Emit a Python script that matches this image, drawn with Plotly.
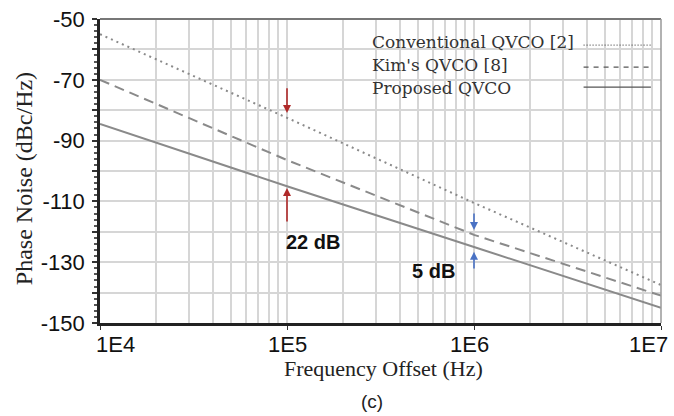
import math
import plotly.graph_objects as go

# ---- data ----
freq = [1e4, 1e5, 1e6, 1e7]
conv = [-55, -82.5, -110.5, -137.5]
kim = [-70, -96.4, -121, -141]
prop = [-84.5, -105, -125, -145]

names = ["Conventional QVCO [2]", "Kim's QVCO [8]", "Proposed QVCO"]
x_ticks = [1e4, 1e5, 1e6, 1e7]
x_labels = ["1E4", "1E5", "1E6", "1E7"]
y_ticks = [-150, -140, -130, -120, -110, -100, -90, -80, -70, -60, -50]
y_labels = ["-150", "", "-130", "", "-110", "", "-90", "", "-70", "", "-50"]
notes = ["22 dB", "5 dB"]

LINE = "#8a8a8a"
GRID = "#d6d6d6"
SERIF = "Liberation Serif"
SANS = "Liberation Sans"

fig = go.Figure()
styles = [("2px,4px", 2), ("10px,6px", 2), ("solid", 2)]
for ys, (dash, w) in zip([conv, kim, prop], styles):
    fig.add_trace(go.Scatter(x=freq, y=ys, mode="lines",
                             line=dict(color=LINE, width=w, dash=dash),
                             showlegend=False, hoverinfo="skip"))

minor_x = [k * 10 ** e for e in range(4, 7) for k in range(2, 10)]

fig.update_layout(
    width=674, height=416,
    margin=dict(l=100, r=13, t=19, b=93),
    paper_bgcolor="white", plot_bgcolor="white",
    xaxis=dict(type="log", range=[4, 7], tickmode="array", tickvals=x_ticks,
               ticktext=["", "", "", ""], showgrid=True, gridcolor=GRID, gridwidth=1.5,
               ticks="outside", ticklen=4, tickcolor="#333", automargin=False,
               showline=True, linecolor="#222", linewidth=2.5, zeroline=False,
               minor=dict(tickmode="array", tickvals=minor_x, showgrid=True,
                          gridcolor=GRID, gridwidth=1.5, ticks="")),
    yaxis=dict(range=[-150, -50], tickmode="array", tickvals=y_ticks, ticktext=y_labels,
               showgrid=True, gridcolor=GRID, gridwidth=1.5,
               ticks="outside", ticklen=5, tickcolor="#333", tickwidth=1.5,
               ticklabelstandoff=3, automargin=False,
               showline=True, linecolor="#222", linewidth=2.5, zeroline=False,
               tickfont=dict(family=SANS, size=22, color="#111"),
               minor=dict(dtick=2, tick0=-150, ticks="outside", ticklen=3,
                          tickcolor="#555", showgrid=False)),
)

# top / right frame
fig.add_shape(type="line", xref="paper", yref="paper", x0=0, x1=1, y0=1, y1=1,
              line=dict(color="#777", width=2))
fig.add_shape(type="line", xref="paper", yref="paper", x0=1, x1=1, y0=0, y1=1,
              line=dict(color="#999", width=1.5))

# x tick labels as annotations (edge labels are pulled inward in the original)
shifts = [(-6, "left"), (0, "center"), (-5, "center"), (9, "right")]
for xv, lab, (sh, anc) in zip(x_ticks, x_labels, shifts):
    fig.add_annotation(x=math.log10(xv), xref="x", y=-0.07, yref="paper", text=lab,
                       showarrow=False, xanchor=anc, yanchor="middle", xshift=sh,
                       font=dict(family=SANS, size=22, color="#111"))

# axis titles and caption
fig.add_annotation(x=0.506, y=-0.15, xref="paper", yref="paper",
                   text="Frequency Offset (Hz)", showarrow=False,
                   xanchor="center", yanchor="middle",
                   font=dict(family=SERIF, size=22, color="#222"))
fig.add_annotation(x=-0.135, y=0.474, xref="paper", yref="paper",
                   text="Phase Noise (dBc/Hz)", showarrow=False, textangle=-90,
                   xanchor="center", yanchor="middle",
                   font=dict(family=SERIF, size=24, color="#222"))
fig.add_annotation(x=0.485, y=-0.257, xref="paper", yref="paper",
                   text="(c)", showarrow=False, xanchor="center", yanchor="middle",
                   font=dict(family=SANS, size=19, color="#222"))

# legend box (text left, line sample right)
fig.add_shape(type="rect", xref="paper", yref="paper", x0=0.472, x1=0.997,
              y0=0.743, y1=0.995, fillcolor="white", line=dict(width=0), layer="between")
leg_y_text = [0.924, 0.849, 0.773]
leg_y_line = [0.914, 0.842, 0.776]
leg_dash = ["1px,2px", "5px,5px", "solid"]
for nm, yt, yl, d in zip(names, leg_y_text, leg_y_line, leg_dash):
    fig.add_annotation(x=0.482, y=yt, xref="paper", yref="paper", text=nm,
                       showarrow=False, xanchor="left", yanchor="middle",
                       font=dict(family="DejaVu Serif", size=17, color="#333"))
    fig.add_shape(type="line", xref="paper", yref="paper", x0=0.862, x1=0.982,
                  y0=yl, y1=yl, line=dict(color="#555", width=1.3, dash=d))

# difference arrows
RED = "#b02a2a"
BLUE = "#4a72c4"
f5, f6 = math.log10(freq[1]), math.log10(freq[2])
c5, p5 = conv[1], prop[1]
k6, p6 = kim[2], prop[2]
arrows = [
    (f5, c5 + 1.6, c5 + 10.2, RED),
    (f5, p5 - 0.6, p5 - 12.1, RED),
    (f6, k6 + 1.6, k6 + 7.5, BLUE),
    (f6, p6 - 1.6, p6 - 7.6, BLUE),
]
for xv, yh, yt, col in arrows:
    fig.add_annotation(x=xv, y=yh, ax=xv, ay=yt, xref="x", yref="y",
                       axref="x", ayref="y", text="", showarrow=True,
                       arrowhead=2, arrowsize=1, arrowwidth=1.6, arrowcolor=col)

fig.add_annotation(x=0.380, y=0.266, xref="paper", yref="paper", text="<b>" + notes[0] + "</b>",
                   showarrow=False, xanchor="center", yanchor="middle",
                   font=dict(family=SANS, size=20, color="#111"))
fig.add_annotation(x=0.595, y=0.171, xref="paper", yref="paper", text="<b>" + notes[1] + "</b>",
                   showarrow=False, xanchor="center", yanchor="middle",
                   font=dict(family=SANS, size=20, color="#111"))

fig.write_html("out.html", config={"displayModeBar": False},
               post_script="document.body.style.margin='0';document.body.style.overflow='hidden';")
